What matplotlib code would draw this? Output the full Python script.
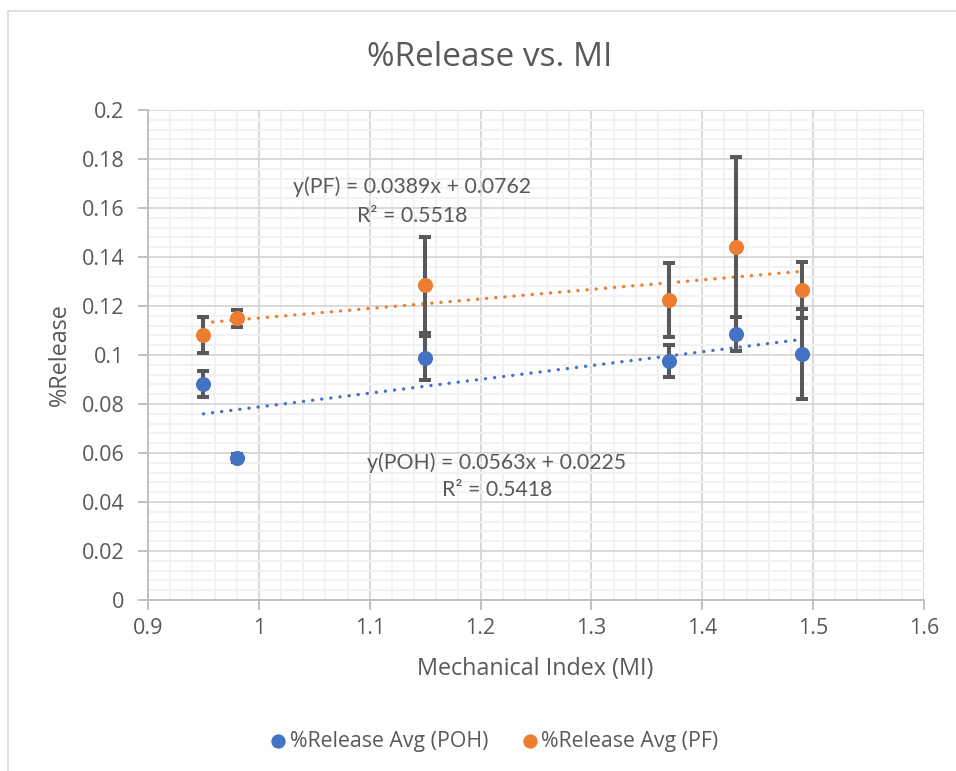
import matplotlib
matplotlib.use("Agg")
import matplotlib.pyplot as plt
import numpy as np
from matplotlib.ticker import MultipleLocator
from matplotlib.patches import Rectangle

plt.rcParams['font.family'] = ['Open Sans', 'DejaVu Sans']

# Data
mi = [0.95, 0.98, 1.15, 1.37, 1.43, 1.49]
poh_avg = [0.0882, 0.0580, 0.0986, 0.0977, 0.1086, 0.1004]
poh_err = [0.0054, 0.0016, 0.0090, 0.0065, 0.0069, 0.0185]
pf_avg = [0.1082, 0.1150, 0.1286, 0.1224, 0.1442, 0.1265]
pf_err = [0.0072, 0.0035, 0.0195, 0.0151, 0.0365, 0.0116]

pf_slope, pf_intercept, pf_r2 = 0.0389, 0.0762, 0.5518
poh_slope, poh_intercept, poh_r2 = 0.0563, 0.0225, 0.5418

blue = '#4472C4'
orange = '#ED7D31'
errc = '#595959'
textc = '#595959'
eqfont = ['Lato', 'DejaVu Sans']

fig = plt.figure(figsize=(9.56, 7.71), dpi=100)
ax = fig.add_axes([148/956, 1-600/771, (924-148)/956, (600-110)/771])

# chart border
fig.patches.append(Rectangle((8/956, -0.05), 1.1, 1-11/771+0.05, transform=fig.transFigure,
                             fill=False, edgecolor='#D9D9D9', linewidth=1.2))

ax.set_xlim(0.9, 1.6)
ax.set_ylim(0, 0.2)
ax.xaxis.set_major_locator(MultipleLocator(0.1))
ax.xaxis.set_minor_locator(MultipleLocator(0.02))
ax.yaxis.set_major_locator(MultipleLocator(0.02))
ax.yaxis.set_minor_locator(MultipleLocator(0.004))
ax.grid(which='major', color='#D9D9D9', linewidth=1.4, zorder=0)
ax.grid(which='minor', color='#F2F2F2', linewidth=1.4, zorder=0)
ax.set_axisbelow(True)

for s in ['top', 'right']:
    ax.spines[s].set_visible(False)
for s in ['left', 'bottom']:
    ax.spines[s].set_color('#BFBFBF')
    ax.spines[s].set_linewidth(1.4)

ax.tick_params(axis='both', which='major', colors='#BFBFBF', labelcolor=textc,
               labelsize=15.5, length=7, width=1.4, direction='out')
ax.tick_params(axis='both', which='minor', length=0)
ax.tick_params(axis='x', pad=6)
ax.tick_params(axis='y', pad=10)

ax.set_xticks(np.round(np.arange(0.9, 1.61, 0.1), 1))
ax.set_xticklabels(['0.9', '1', '1.1', '1.2', '1.3', '1.4', '1.5', '1.6'])
ax.set_yticks(np.round(np.arange(0, 0.201, 0.02), 2))
ax.set_yticklabels(['0', '0.02', '0.04', '0.06', '0.08', '0.1', '0.12', '0.14', '0.16', '0.18', '0.2'])

# trendlines
xt = np.array([min(mi), max(mi)])
ax.plot(xt, pf_slope*xt + pf_intercept, linestyle=(0, (0.05, 2.7)), color=orange,
        linewidth=2.4, dash_capstyle='round', solid_capstyle='round', zorder=2)
ax.plot(xt, poh_slope*xt + poh_intercept, linestyle=(0, (0.05, 2.7)), color=blue,
        linewidth=2.4, dash_capstyle='round', solid_capstyle='round', zorder=2)

# error bars
ax.errorbar(mi, pf_avg, yerr=pf_err, fmt='none', ecolor=errc, elinewidth=2.9,
            capsize=4.4, capthick=2.9, zorder=3)
ax.errorbar(mi, poh_avg, yerr=poh_err, fmt='none', ecolor=errc, elinewidth=2.9,
            capsize=4.4, capthick=2.9, zorder=3)

ax.scatter(mi, pf_avg, s=118, color=orange, zorder=4, label='%Release Avg (PF)', linewidths=0)
ax.scatter(mi, poh_avg, s=118, color=blue, zorder=5, label='%Release Avg (POH)', linewidths=0)

# equations
ax.text(1.138, 0.1686, f'y(PF) = {pf_slope}x + {pf_intercept}', ha='center', va='center',
        fontsize=15.3, color=textc, family=eqfont)
ax.text(1.138, 0.1568, f'R² = {pf_r2}', ha='center', va='center', fontsize=15.3,
        color=textc, family=eqfont)
ax.text(1.2148, 0.0561, f'y(POH) = {poh_slope}x + {poh_intercept}', ha='center', va='center',
        fontsize=15.3, color=textc, family=eqfont)
ax.text(1.2148, 0.0447, f'R² = {poh_r2}', ha='center', va='center', fontsize=15.3,
        color=textc, family=eqfont)

fig.text(490/956, 1-57/771, '%Release vs. MI', ha='center', va='center', fontsize=24, color=textc)
ax.set_xlabel('Mechanical Index (MI)', fontsize=16.8, color=textc, va='center')
ax.xaxis.set_label_coords((535-148)/776, (600-669)/490)
ax.set_ylabel('%Release', fontsize=16.8, color=textc, va='center')
ax.yaxis.set_label_coords((60-148)/776, (600-355)/490)

h, l = ax.get_legend_handles_labels()
leg = fig.legend([h[1], h[0]], [l[1], l[0]], loc='center', bbox_to_anchor=(493/956, 1-741/771),
                 ncol=2, frameon=False, fontsize=15.3, handletextpad=0.05, columnspacing=1.45,
                 markerscale=0.95, handlelength=1.0)
for t in leg.get_texts():
    t.set_color(textc)

fig.savefig('out.png', dpi=100)
